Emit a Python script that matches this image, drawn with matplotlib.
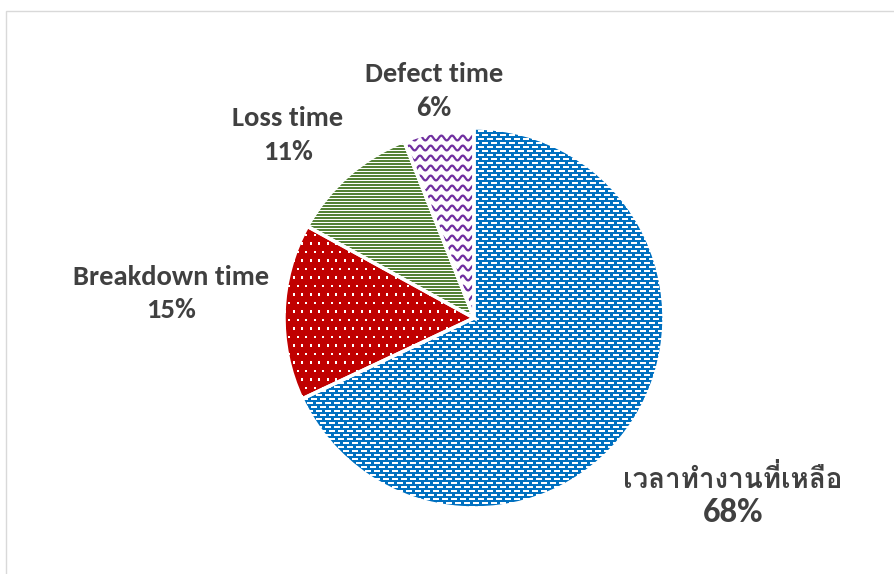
import numpy as np
import matplotlib
matplotlib.use("Agg")
import matplotlib.pyplot as plt
from matplotlib.collections import PolyCollection, LineCollection
from matplotlib.patches import Rectangle

# 各项时间占比
labels = ["เวลาทำงานที่เหลือ", "Breakdown time", "Loss time", "Defect time"]
values = [68, 15, 11, 6]
colors = ["#0070C0", "#C00000", "#548235", "#FFFFFF"]

W, H = 894, 574
CX, CY, R = 474, H - 318, 190
TEXT_COLOR = "#404040"
LATIN = ["Carlito", "Lato", "DejaVu Sans"]
THAI = ["Loma", "IBM Plex Sans Thai Looped", "DejaVu Sans"]


def rects(xs, ys, w, h):
    return [[(x, y), (x + w, y), (x + w, y + h), (x, y + h)] for x, y in zip(xs, ys)]


def brick_grid(dx, dy, shift):
    """交错网格点（覆盖整个饼图外接正方形）"""
    xs, ys = [], []
    for i, y in enumerate(np.arange(CY - R - dy, CY + R + dy, dy)):
        off = shift if i % 2 else 0
        for x in np.arange(CX - R - dx + off, CX + R + dx, dx):
            xs.append(x)
            ys.append(y)
    return np.array(xs), np.array(ys)


def texture_dashes(wedge, ax):
    xs, ys = brick_grid(9, 4, 4.5)
    pc = PolyCollection(rects(xs, ys, 6, 2), facecolor="white", edgecolor="none", zorder=2)
    pc.set_clip_path(wedge)
    ax.add_collection(pc)


def texture_dots(wedge, ax):
    xs, ys = brick_grid(8.5, 8.5, 4.25)
    pc = PolyCollection(rects(xs, ys, 2.2, 2.2), facecolor="white", edgecolor="none", zorder=2)
    pc.set_clip_path(wedge)
    ax.add_collection(pc)


def texture_stripes(wedge, ax):
    ys = np.arange(CY - R, CY + R, 3.0)
    xs = np.full_like(ys, CX - R)
    pc = PolyCollection(rects(xs, ys, 2 * R, 1.3), facecolor="white", edgecolor="none", zorder=2)
    pc.set_clip_path(wedge)
    ax.add_collection(pc)


def texture_waves(wedge, ax):
    x = np.linspace(CX - R, CX + R, 800)
    segs = []
    for y0 in np.arange(CY - R, CY + R, 10.0):
        y = y0 + 2.4 * np.sin(2 * np.pi * x / 10.7)
        segs.append(np.column_stack([x, y]))
    lc = LineCollection(segs, colors="#7030A0", linewidths=1.6, zorder=2)
    lc.set_clip_path(wedge)
    ax.add_collection(lc)


fig = plt.figure(figsize=(W / 100, H / 100), dpi=100)
ax = fig.add_axes([0, 0, 1, 1])

wedges, _ = ax.pie(values, colors=colors, startangle=90, counterclock=False,
                   center=(CX, CY), radius=R, wedgeprops=dict(linewidth=0, zorder=1))
for wedge, fill in zip(wedges, [texture_dashes, texture_dots, texture_stripes, texture_waves]):
    fill(wedge, ax)

# 扇区之间的白色分隔线
ax.pie(values, colors=["none"] * 4, startangle=90, counterclock=False,
       center=(CX, CY), radius=R,
       wedgeprops=dict(facecolor="none", edgecolor="white", linewidth=2.5, zorder=3))

# 图表区浅灰边框
ax.add_patch(Rectangle((6, -20), W + 20, H - 11 + 20, facecolor="none",
                       edgecolor="#D9D9D9", linewidth=1.0, zorder=0))

# 数据标签：(x 中心, 名称基线, 百分比基线)
label_pos = [(733, 488, 522), (171, 285, 318), (288, 126, 160), (434, 82, 116)]
for i, (name, v) in enumerate(zip(labels, values)):
    x, y1, y2 = label_pos[i]
    if i == 0:
        ax.text(x, H - y1, name, ha="center", va="baseline", fontsize=20,
                fontweight="bold", family=THAI, color=TEXT_COLOR)
        ax.text(x, H - y2, f"{v}%", ha="center", va="baseline", fontsize=25,
                fontweight="bold", family=LATIN, color=TEXT_COLOR)
    else:
        ax.text(x, H - y1, name, ha="center", va="baseline", fontsize=20.5,
                fontweight="bold", family=LATIN, color=TEXT_COLOR)
        ax.text(x, H - y2, f"{v}%", ha="center", va="baseline", fontsize=20.5,
                fontweight="bold", family=LATIN, color=TEXT_COLOR)

ax.set_xlim(0, W)
ax.set_ylim(0, H)
ax.set_aspect("equal")
ax.axis("off")

fig.savefig("out.png", dpi=100)
